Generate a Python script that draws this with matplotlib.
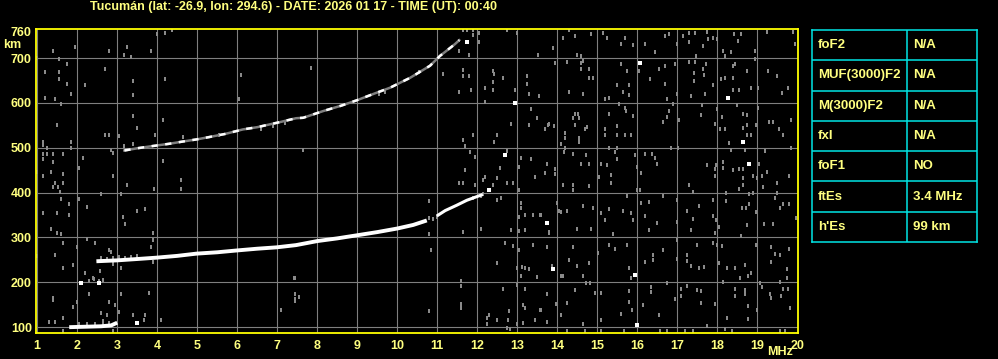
import matplotlib
matplotlib.use("Agg")
import matplotlib.pyplot as plt

plt.rcParams['font.family'] = ['Liberation Sans', 'DejaVu Sans']
plt.rcParams['font.weight'] = 'bold'

# ---- data ----
title = "Tucumán (lat: -26.9, lon: 294.6) - DATE: 2026 01 17 - TIME (UT): 00:40"

freq_ticks = list(range(1, 21))
height_ticks = [100, 200, 300, 400, 500, 600, 700, 760]
grid_f = list(range(1, 20))
grid_h = [100, 200, 300, 400, 500, 600, 700]

# F-layer trace (1 hop)
f1_f = [2.48, 3.0, 3.5, 3.98, 4.5, 4.98, 5.5, 5.98, 6.5, 6.98, 7.47, 8.0, 8.5, 9.0, 9.5, 10.0, 10.4, 10.74]
f1_h = [247, 249, 252, 255, 259, 264, 267, 271, 275, 278, 283, 292, 298, 305, 312, 320, 328, 338]
f1b_f = [10.99, 11.2, 11.49, 11.74, 12.14]
f1b_h = [348, 360, 372, 383, 396]

# F-layer trace (2 hops)
f2_f = [3.18, 3.5, 3.89, 4.3, 4.64, 5.0, 5.3, 5.7, 6.14, 6.5, 6.8, 7.1, 7.47, 7.65, 8.15, 8.6,
        8.99, 9.4, 9.82, 10.32, 10.82, 11.07, 11.44, 11.55]
f2_h = [494, 499, 504, 509, 514, 519, 524, 531, 541, 546, 552, 558, 566, 567, 582, 594,
        606, 620, 634, 656, 683, 705, 731, 740]

# sporadic E trace
es_f = [1.8, 2.2, 2.6, 2.85, 3.0]
es_h = [100, 101, 102, 104, 110]

# isolated strong echoes (white)
spark_f = [16.07, 18.28, 18.64, 18.80, 13.74, 13.89, 15.95, 15.99, 11.74, 12.95, 12.69, 12.30, 3.49, 2.09, 2.54]
spark_h = [689, 610, 514, 465, 333, 229, 217, 104, 737, 599, 485, 407, 110, 199, 199]

# weak echoes / noise (grey)
noise_f = [
    # 13.5 - 20 MHz
    14.30, 14.14, 14.45, 14.84, 15.14, 15.24, 15.59, 15.70, 15.89, 16.19, 16.44, 16.69, 16.80, 16.99, 17.14, 17.29,
    17.29, 17.45, 17.47, 17.65, 17.74, 17.78, 17.90, 17.99, 18.14, 18.20, 18.35, 18.43, 18.53, 18.60, 18.95, 19.24,
    19.89, 19.95, 13.89, 14.49, 14.59, 14.65,
    13.95, 14.24, 14.59, 14.59, 14.80, 14.80, 14.90, 15.60, 15.74, 16.05, 16.55, 16.69, 16.95, 16.32, 16.69, 17.29,
    17.45, 17.43, 17.43, 17.71, 17.65, 17.68, 17.90, 18.10, 18.20, 18.39, 18.39, 18.45, 18.40, 18.55, 18.74, 18.84,
    18.95, 19.03, 19.28, 19.49, 19.78, 19.61, 14.30, 14.64, 15.50, 15.64, 15.80, 15.80, 15.20, 15.29, 16.74, 16.89,
    16.99, 17.35, 17.70,
    18.49, 18.65, 18.74, 19.03, 18.74, 18.64, 18.74, 18.84, 18.97, 19.29, 19.39, 19.55, 19.64, 19.84, 18.07, 18.20,
    18.11, 17.95, 17.61, 17.60, 17.99, 17.05, 16.80, 16.74, 16.65, 15.70, 15.72, 15.89, 15.50, 15.50, 15.29, 15.20,
    15.20, 15.70, 15.84, 14.45, 14.53, 14.40, 14.55, 14.45, 14.74, 14.70, 14.55, 14.55, 14.20, 14.20, 13.93, 13.78,
    13.70, 14.10, 15.55, 18.30,
    14.20, 14.18, 14.39, 14.72, 14.59, 14.80, 13.74, 13.94, 13.94, 13.70, 14.14, 14.39, 14.39, 14.80, 15.09, 15.05,
    15.24, 15.34, 15.34, 15.50, 15.50, 15.30, 15.45, 15.95, 15.99, 16.09, 16.19, 16.38, 16.44, 16.50, 15.99, 16.07,
    16.85, 17.03, 17.30, 17.39, 17.74, 17.97, 17.95, 17.95, 18.14, 18.14, 18.39, 18.55, 18.64, 18.70, 18.35, 18.65,
    18.65, 18.55, 18.89, 18.99, 19.04, 19.11, 19.15, 19.24, 19.20, 19.49, 19.80, 19.84, 18.80,
    13.80, 13.99, 14.04, 14.09, 14.24, 14.49, 14.64, 14.84, 14.89, 15.09, 15.20, 15.29, 15.39, 15.64, 15.74, 15.85,
    15.89, 16.10, 16.19, 16.29, 16.29, 16.49, 16.65, 16.99, 16.99, 17.24, 17.39, 17.55, 17.35, 17.90, 17.90, 17.97,
    17.95, 18.04, 18.21, 18.21, 18.61, 18.71, 18.60, 18.74, 18.80, 18.89, 18.97, 19.17, 19.39, 19.45, 19.49, 19.57,
    19.65, 19.80, 19.98, 13.57,
    13.74, 13.86, 14.09, 14.14, 14.30, 14.39, 14.49, 14.64, 14.80, 15.03, 15.30, 15.45, 15.74, 15.80, 15.84, 16.19,
    16.40, 16.40, 16.64, 16.99, 16.99, 17.24, 17.24, 17.35, 17.49, 17.55, 17.68, 18.04, 17.89, 17.99, 18.11, 18.24,
    18.45, 18.57, 18.70, 18.76, 18.84, 18.97, 19.07, 19.35, 19.45, 19.35, 19.57, 19.75, 19.80, 19.74,
    13.74, 13.96, 14.09, 14.24, 14.45, 14.72, 14.82, 14.94, 15.09, 15.09, 14.64, 13.74, 13.57, 15.59, 15.80, 15.80,
    15.86, 16.14, 16.35, 16.35, 16.55, 16.74, 16.95, 17.10, 17.10, 17.25, 17.49, 17.60, 17.60, 17.74, 17.95, 18.14,
    18.24, 18.45, 18.45, 18.70, 18.70, 18.78, 18.78, 18.99, 19.11, 19.32, 19.35, 19.57, 19.59, 19.64, 19.78, 19.82,
    19.57, 19.70, 18.20, 18.36, 17.40, 17.20, 16.57, 16.74, 14.70, 14.24, 15.67, 15.09,
    # 7 - 13.5 MHz
    11.64, 11.74, 11.89, 11.89, 12.05, 12.05, 12.74, 12.99, 11.55, 11.80, 13.53, 7.84, 11.14, 11.65, 11.80, 11.64,
    12.39, 12.43, 12.64, 12.39, 12.20, 12.39, 11.85, 11.55, 12.95, 13.24, 13.24, 13.30, 13.55, 12.20, 13.34, 13.49,
    12.84, 13.30, 13.80, 13.70, 12.49, 12.42, 11.89, 11.64, 11.70, 7.65, 12.74, 11.82, 11.95, 12.57, 13.09, 13.34,
    13.04, 13.74, 13.44, 13.70, 11.69, 12.19, 12.14, 12.49, 12.74, 12.90, 11.55, 11.64, 11.95, 12.40, 13.04, 12.14,
    12.10, 12.49, 12.59, 11.90, 10.79, 11.64, 10.79, 12.09, 12.84, 13.04, 13.20, 13.10, 13.10, 13.40, 13.60, 13.74,
    13.80, 13.20, 13.05, 10.84, 12.69, 12.89, 13.04, 13.39, 12.49, 13.13, 13.20, 13.29, 12.99, 13.10, 13.49, 13.74,
    7.44, 7.44, 7.55, 7.44, 11.59, 11.59, 12.99, 12.65, 13.20, 13.74, 11.59, 11.59, 10.79, 13.14, 13.20, 13.59,
    12.80, 12.30, 12.24, 12.49, 12.24, 12.78, 13.45, 13.14, 13.74, 12.74, 12.82, 12.99,
    # 1 - 7 MHz
    4.37, 4.20, 3.99, 1.39, 1.95, 2.79, 3.24, 3.84, 3.18, 3.35, 0.99, 1.54, 1.75, 1.19, 1.54, 2.70,
    3.39, 4.20, 1.54, 1.75, 2.20, 1.85, 1.19, 1.45, 3.39, 1.60, 6.04, 6.10, 3.39, 4.14, 1.50, 3.50,
    2.70, 2.80, 3.95, 3.04, 4.64, 1.15, 1.15, 1.85, 1.24, 1.85, 2.84, 2.90, 4.14, 1.14, 1.24, 1.40,
    1.64, 2.14, 1.14, 1.40, 2.04, 0.99, 1.34, 1.14, 1.64, 2.90, 4.60, 3.25, 1.45, 1.64, 1.40, 1.53,
    1.58, 3.93, 4.60, 2.60, 3.10, 1.60, 2.04, 1.79, 2.24, 1.14, 1.50, 1.79, 3.50, 3.70, 3.14, 3.20,
    1.34, 1.50, 1.60, 3.89, 2.25, 3.89, 2.45, 1.64, 3.84, 2.79, 2.84, 1.99, 0.99, 1.45, 1.89, 1.64,
    3.10, 3.89, 2.90, 2.20, 2.58, 2.39, 2.64, 2.29, 3.10, 3.80, 1.39, 1.39, 1.99, 2.79, 2.94, 1.89,
    2.59, 3.04, 2.75, 3.39, 3.70, 1.64, 4.10, 1.30, 1.45, 3.68, 2.64, 1.64, 2.89, 7.43, 7.45, 7.45,
    7.10, 2.30, 2.43, 2.55,
    # grey fringes of the traces
    2.6, 2.75, 2.9, 3.05, 3.2, 3.35, 3.5, 3.18, 3.39, 10.80, 10.90, 11.00, 2.05, 2.25, 2.45, 2.65, 2.8,
    5.55, 6.6, 6.9, 7.2, 9.55, 9.70, 10.55,
]
noise_h = [
    762, 746, 749, 753, 755, 744, 731, 744, 729, 731, 713, 749, 753, 731, 749, 755,
    737, 755, 705, 727, 759, 742, 744, 742, 717, 705, 713, 753, 738, 753, 716, 759,
    759, 731, 722, 708, 705, 694,
    690, 692, 690, 675, 675, 656, 656, 688, 671, 671, 675, 683, 688, 653, 643, 692,
    692, 666, 649, 686, 675, 662, 640, 653, 656, 682, 655, 686, 630, 630, 671, 634,
    697, 634, 671, 660, 634, 623, 625, 621, 639, 625, 639, 618, 608, 612, 608, 598,
    621, 616, 621,
    595, 576, 573, 589, 552, 545, 528, 528, 552, 558, 558, 541, 528, 563, 541, 541,
    569, 554, 595, 573, 586, 563, 582, 569, 558, 589, 582, 571, 549, 528, 576, 541,
    528, 528, 528, 576, 576, 567, 567, 552, 546, 543, 522, 514, 534, 522, 549, 552,
    541, 508, 598, 511,
    500, 491, 487, 483, 464, 464, 464, 452, 442, 443, 418, 418, 406, 415, 464, 435,
    461, 439, 422, 474, 499, 500, 491, 483, 457, 443, 487, 487, 478, 463, 405, 405,
    499, 500, 418, 402, 461, 461, 453, 438, 469, 455, 450, 452, 452, 496, 496, 433,
    418, 409, 438, 433, 464, 437, 412, 447, 493, 421, 438, 500, 396,
    310, 377, 360, 357, 360, 319, 370, 319, 365, 355, 338, 364, 307, 360, 392, 355,
    338, 377, 348, 379, 316, 333, 392, 383, 334, 359, 342, 371, 316, 383, 347, 338,
    311, 324, 400, 381, 365, 365, 303, 327, 374, 400, 357, 329, 329, 387, 400, 366,
    374, 374, 344, 351,
    279, 236, 214, 214, 249, 279, 236, 215, 243, 266, 284, 275, 284, 232, 210, 246,
    260, 249, 271, 294, 253, 262, 247, 236, 284, 231, 234, 243, 288, 283, 281, 231,
    231, 209, 238, 214, 221, 283, 199, 279, 264, 246, 262, 230, 275, 209,
    173, 152, 127, 154, 182, 199, 199, 177, 177, 115, 107, 112, 139, 130, 180, 156,
    139, 149, 189, 179, 127, 199, 162, 186, 169, 191, 184, 180, 154, 102, 152, 200,
    121, 186, 169, 184, 173, 147, 119, 139, 189, 173, 165, 201, 169, 186, 186, 143,
    92, 92, 95, 91, 91, 91, 91, 91, 92, 91, 91, 92,
    # 7 - 13.5 MHz
    762, 762, 762, 752, 757, 737, 762, 755, 717, 708, 707, 677, 665, 673, 660, 660,
    671, 665, 656, 647, 634, 630, 629, 625, 630, 660, 643, 619, 615, 603, 586, 567,
    554, 552, 554, 541, 528, 514, 528, 518, 505, 496, 494, 491, 479, 454, 478, 474,
    458, 464, 436, 443, 451, 435, 429, 433, 422, 422, 422, 422, 418, 418, 405, 396,
    392, 383, 387, 389, 381, 313, 307, 320, 316, 314, 316, 377, 365, 350, 350, 333,
    313, 350, 345, 271, 288, 281, 271, 284, 243, 234, 232, 229, 231, 214, 212, 278,
    209, 173, 167, 158, 203, 191, 195, 186, 186, 173, 152, 143, 137, 150, 143, 139,
    137, 127, 121, 117, 107, 117, 115, 110, 112, 98, 95, 107,
    # 1 - 7 MHz
    762, 757, 753, 717, 725, 717, 725, 717, 708, 703, 701, 699, 688, 670, 670, 675,
    650, 653, 653, 643, 639, 621, 612, 608, 617, 598, 608, 662, 572, 563, 550, 545,
    528, 528, 528, 526, 525, 514, 506, 514, 500, 500, 495, 489, 470, 487, 487, 487,
    487, 478, 474, 469, 455, 447, 447, 438, 442, 438, 429, 418, 422, 422, 413, 413,
    402, 409, 409, 396, 397, 386, 386, 374, 368, 355, 355, 351, 360, 363, 346, 329,
    319, 310, 307, 310, 297, 294, 288, 288, 279, 271, 267, 279, 258, 261, 238, 231,
    231, 245, 242, 221, 226, 210, 206, 173, 173, 177, 164, 160, 156, 156, 149, 145,
    132, 134, 127, 127, 127, 121, 115, 112, 112, 115, 113, 91, 91, 209, 173, 162,
    139, 204, 208, 203,
    # grey fringes of the traces
    255, 253, 254, 256, 255, 256, 258, 504, 508, 343, 341, 345, 107, 108, 108, 108, 109,
    529, 543, 549, 555, 619, 624, 668,
]

# ionospheric parameters table
param_names = ["foF2", "MUF(3000)F2", "M(3000)F2", "fxI", "foF1", "ftEs", "h'Es"]
param_values = ["N/A", "N/A", "N/A", "N/A", "NO", "3.4 MHz", "99 km"]

txt = '#ffff80'
W, H = 998, 359

fig = plt.figure(figsize=(W / 100, H / 100), dpi=100, facecolor='black')
ax = fig.add_axes([36 / W, (H - 333) / H, (798 - 36) / W, (333 - 29) / H], facecolor='black')
ax.set_xlim(0.97, 20.02)
ax.set_ylim(87, 765)

ax.vlines(grid_f, 87, 765, colors='#7f7f7f', linewidth=0.8, zorder=1)
ax.hlines(grid_h, 0.97, 20.02, colors='#7f7f7f', linewidth=0.8, zorder=1)

# small vertical dashes, like the sounder's pixels
dash = [(-1, -1.5), (1, -1.5), (1, 1.5), (-1, 1.5)]
ax.scatter(noise_f, noise_h, s=10, marker=dash, color='#8a8a8a', linewidths=0, zorder=2)

ax.plot(f2_f, f2_h, color='#808080', linewidth=1.8, zorder=3)
ax.plot(f2_f, f2_h, color='white', linewidth=1.8, dashes=(2.5, 3), zorder=4)
ax.plot(f1_f, f1_h, color='white', linewidth=2.8, solid_capstyle='butt', zorder=4)
ax.plot(f1b_f, f1b_h, color='white', linewidth=2.2, solid_capstyle='butt', zorder=4)
ax.plot(es_f, es_h, color='white', linewidth=2.8, solid_capstyle='butt', zorder=4)
ax.scatter(spark_f, spark_h, s=11, marker=dash, color='white', linewidths=0, zorder=5)

for s in ax.spines.values():
    s.set_color('#ffff00')
    s.set_linewidth(1.3)
    s.set_zorder(6)

ax.set_xticks(freq_ticks)
ax.set_xticklabels([str(v) for v in freq_ticks])
ax.set_yticks(height_ticks)
ax.set_yticklabels([str(v) for v in height_ticks])
ax.tick_params(axis='both', length=0, labelcolor=txt, labelsize=9)
ax.tick_params(axis='x', pad=5)
ax.tick_params(axis='y', pad=3)
for lab in ax.get_xticklabels() + ax.get_yticklabels():
    lab.set_fontweight('bold')

fig.text(12 / W, 1 - 45 / H, "km", color=txt, fontsize=9, fontweight='bold', ha='center', va='center')
fig.text(780 / W, 1 - 352 / H, "MHz", color=txt, fontsize=9, fontweight='bold', ha='center', va='center')
fig.text(294 / W, 1 - 7 / H, title, color=txt, fontsize=9, fontweight='bold', ha='center', va='center')

# parameter table
tx = fig.add_axes([812 / W, (H - 242) / H, (977 - 812) / W, (242 - 30) / H], facecolor='black')
tx.set_xlim(0, 1)
tx.set_ylim(len(param_names), 0)
tx.set_xticks([])
tx.set_yticks([])
for s in tx.spines.values():
    s.set_color('#00e5e5')
    s.set_linewidth(1.1)
tx.hlines(range(1, len(param_names)), 0, 1, colors='#00e5e5', linewidth=1.1)
tx.vlines(0.575, 0, len(param_names), colors='#00e5e5', linewidth=1.1)
for i, (n, v) in enumerate(zip(param_names, param_values)):
    tx.text(0.035, i + 0.5, n, color=txt, fontsize=9.5, fontweight='bold', va='center', ha='left')
    tx.text(0.61, i + 0.5, v, color=txt, fontsize=9.5, fontweight='bold', va='center', ha='left')

fig.savefig('out.png', dpi=100, facecolor='black')
